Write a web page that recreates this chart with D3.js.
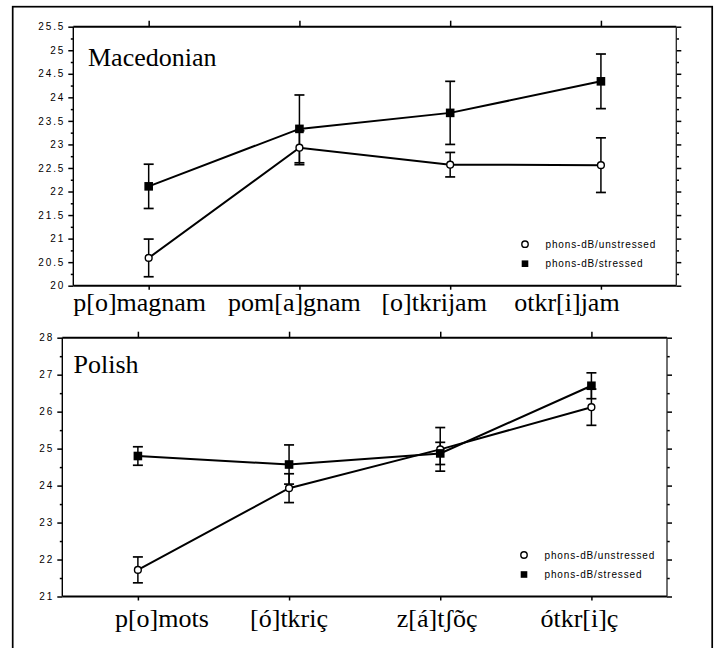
<!DOCTYPE html>
<html><head><meta charset="utf-8">
<script src="https://cdn.jsdelivr.net/npm/d3@7"></script>
<style>body{margin:0;background:#fff} svg{display:block}</style>
</head><body>
<svg id="c" width="718" height="648"></svg>
<script>
// ---- Data ----
const macCategories = ["p[o]magnam", "pom[a]gnam", "[o]tkrijam", "otkr[i]jam"];
const macUnstressed = [20.59, 22.93, 22.57, 22.56];
const macUnstressedErr = [0.40, 0.36, 0.26, 0.58];
const macStressed = [22.11, 23.33, 23.67, 24.34];
const macStressedErr = [0.47, 0.72, 0.67, 0.58];
const macTickLabels = ["20", "20.5", "21", "21.5", "22", "22.5", "23", "23.5", "24", "24.5", "25", "25.5"];

const polCategories = ["p[o]mots", "[ó]tkriç", "z[á]tʃõç", "ótkr[i]ç"];
const polUnstressed = [21.72, 23.93, 24.98, 26.12];
const polUnstressedErr = [0.35, 0.39, 0.59, 0.49];
const polStressed = [24.80, 24.57, 24.87, 26.70];
const polStressedErr = [0.25, 0.53, 0.30, 0.35];
const polTickLabels = ["21", "22", "23", "24", "25", "26", "27", "28"];

const legendLabels = ["phons-dB/unstressed", "phons-dB/stressed"];

// ---- Drawing ----
const svg = d3.select("#c");
const SANS = "'Liberation Sans', Arial, Helvetica, sans-serif";
const SERIF = "'Liberation Serif', 'Times New Roman', Times, serif";

svg.append("rect")
  .attr("x", 12.7).attr("y", 6.7).attr("width", 699.5).attr("height", 700)
  .attr("fill", "none").attr("stroke", "#000").attr("stroke-width", 1.7);

function panel(o) {
  const g = svg.append("g");
  const x = d3.scalePoint().domain(o.cats).range([o.left, o.right]).padding(0.5);
  const y = d3.scaleLinear().domain([+o.ticks[0], +o.ticks[o.ticks.length - 1]]).range([o.bottom, o.top]);
  const major = o.ticks.map(Number);
  const minor = d3.range(major.length - 1).map(i => (major[i] + major[i + 1]) / 2);

  const clean = sel => { sel.select(".domain").remove(); sel.selectAll(".tick line").attr("stroke", "#000").attr("stroke-width", 1.5); };

  // left axis
  g.append("g").attr("transform", `translate(${o.left},0)`)
    .call(d3.axisLeft(y).tickValues(minor).tickSize(2.5).tickFormat(""))
    .call(clean);
  const la = g.append("g").attr("transform", `translate(${o.left},0)`)
    .call(d3.axisLeft(y).tickValues(major).tickSize(5).tickPadding(3).tickFormat((d, i) => o.ticks[i]))
    .call(clean);
  la.selectAll("text").attr("font-family", SANS).attr("font-size", 10)
    .attr("letter-spacing", "1.9px").attr("fill", "#000");

  // right axis
  g.append("g").attr("transform", `translate(${o.right},0)`)
    .call(d3.axisRight(y).tickValues(minor).tickSize(2.7).tickFormat(""))
    .call(clean);
  g.append("g").attr("transform", `translate(${o.right},0)`)
    .call(d3.axisRight(y).tickValues(major).tickSize(5).tickFormat(""))
    .call(clean);

  // top / bottom category ticks
  g.append("g").attr("transform", `translate(0,${o.top})`)
    .call(d3.axisTop(x).tickSize(6).tickFormat(""))
    .call(clean);
  g.append("g").attr("transform", `translate(0,${o.bottom})`)
    .call(d3.axisBottom(x).tickSize(4).tickFormat(""))
    .call(clean);

  // frame
  g.append("line").attr("x1", o.left).attr("x2", o.right).attr("y1", o.top).attr("y2", o.top)
    .attr("stroke", "#000").attr("stroke-width", 2);
  g.append("line").attr("x1", o.left).attr("x2", o.right).attr("y1", o.bottom).attr("y2", o.bottom)
    .attr("stroke", "#000").attr("stroke-width", 2);
  g.append("line").attr("x1", o.left).attr("x2", o.left).attr("y1", o.top).attr("y2", o.bottom)
    .attr("stroke", "#000").attr("stroke-width", 1.4);
  g.append("line").attr("x1", o.right).attr("x2", o.right).attr("y1", o.top).attr("y2", o.bottom)
    .attr("stroke", "#222").attr("stroke-width", 1.3);

  // category labels
  g.selectAll("text.cat").data(o.cats).join("text").attr("class", "cat")
    .attr("x", (d, i) => x(d) + o.labelShift[i]).attr("y", o.labelY)
    .attr("text-anchor", "middle").attr("font-family", SERIF).attr("font-size", 26)
    .attr("fill", "#000").text(d => d);

  // title
  g.append("text").attr("x", o.titleX).attr("y", o.titleY)
    .attr("font-family", SERIF).attr("font-size", 26).attr("fill", "#000").text(o.title);

  const series = [
    { vals: o.unstressed, err: o.unstressedErr, type: "circle" },
    { vals: o.stressed, err: o.stressedErr, type: "square" }
  ];
  const line = d3.line().x((d, i) => x(o.cats[i])).y(d => y(d));
  series.forEach(s => {
    g.append("path").attr("d", line(s.vals)).attr("fill", "none")
      .attr("stroke", "#000").attr("stroke-width", 2);
  });
  series.forEach(s => {
    const eb = g.append("g");
    s.vals.forEach((v, i) => {
      const cx = x(o.cats[i]);
      const y1 = y(v - s.err[i]), y2 = y(v + s.err[i]);
      eb.append("line").attr("x1", cx).attr("x2", cx).attr("y1", y1).attr("y2", y2)
        .attr("stroke", "#000").attr("stroke-width", 1.5);
      [y1, y2].forEach(yy => eb.append("line").attr("x1", cx - 5).attr("x2", cx + 5)
        .attr("y1", yy).attr("y2", yy).attr("stroke", "#000").attr("stroke-width", 1.7));
    });
  });
  series.forEach(s => {
    if (s.type === "circle") {
      g.selectAll(null).data(s.vals).join("circle")
        .attr("cx", (d, i) => x(o.cats[i])).attr("cy", d => y(d)).attr("r", 3.4)
        .attr("fill", "#fff").attr("stroke", "#000").attr("stroke-width", 1.4);
    } else {
      g.selectAll(null).data(s.vals).join("rect")
        .attr("x", (d, i) => x(o.cats[i]) - 4.3).attr("y", d => y(d) - 4.3)
        .attr("width", 8.6).attr("height", 8.6).attr("fill", "#000");
    }
  });

  // legend
  const lx = o.legendX, ly1 = o.bottom - 41.5, ly2 = o.bottom - 22;
  g.append("circle").attr("cx", lx).attr("cy", ly1).attr("r", 3.2)
    .attr("fill", "#fff").attr("stroke", "#000").attr("stroke-width", 1.4);
  g.append("rect").attr("x", lx - 3.3).attr("y", ly2 - 3.3).attr("width", 6.6).attr("height", 6.6).attr("fill", "#000");
  [ly1, ly2].forEach((yy, i) => g.append("text").attr("x", lx + 20.5).attr("y", yy + 3.6)
    .attr("font-family", SANS).attr("font-size", 10).attr("letter-spacing", "0.85px")
    .attr("fill", "#000").text(legendLabels[i]));
}

panel({
  cats: macCategories, unstressed: macUnstressed, unstressedErr: macUnstressedErr,
  stressed: macStressed, stressedErr: macStressedErr, ticks: macTickLabels,
  left: 73.3, right: 676.3, top: 26.7, bottom: 285.7,
  labelY: 310.5, labelShift: [-9, -5, -16, -34], legendX: 525,
  title: "Macedonian", titleX: 88, titleY: 65.7
});
panel({
  cats: polCategories, unstressed: polUnstressed, unstressedErr: polUnstressedErr,
  stressed: polStressed, stressedErr: polStressedErr, ticks: polTickLabels,
  left: 62.3, right: 667, top: 337.7, bottom: 596.5,
  labelY: 626.5, labelShift: [24, 0, -3, -12], legendX: 524,
  title: "Polish", titleX: 73.5, titleY: 373
});
</script>
</body></html>
